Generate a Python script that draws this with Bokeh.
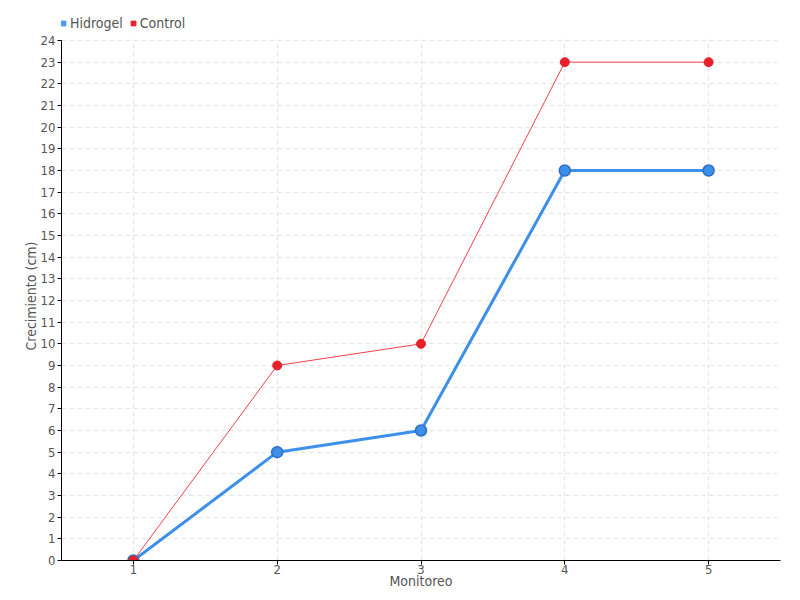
from bokeh.plotting import figure
from bokeh.models import Range1d, FixedTicker, Legend, LegendItem, Title, BoxAnnotation
from bokeh.embed import file_html
from bokeh.resources import INLINE

monitoreo = [1, 2, 3, 4, 5]
hidrogel = [0, 5, 6, 18, 18]
control = [0, 9, 10, 23, 23]
y_ticks = list(range(0, 25))

FONT = "'DejaVu Sans Condensed', 'Liberation Sans Narrow', sans-serif"
TXT = "#555555"

Y_MAX = 24
# frame extends above the top tick so the legend fits inside it
y_top = Y_MAX * 560 / 520

p = figure(width=800, height=600, output_backend="svg", toolbar_location=None,
           x_range=Range1d(0.5, 5.5), y_range=Range1d(0, y_top),
           min_border_left=61, min_border_right=20, min_border_top=0, min_border_bottom=40)
p.outline_line_color = None
p.background_fill_color = "white"

for ax in (p.xaxis[0], p.yaxis[0]):
    ax.axis_line_color = "black"
    ax.axis_line_width = 1
    ax.major_tick_line_color = "black"
    ax.major_tick_out = 4
    ax.major_tick_in = 0
    ax.minor_tick_line_color = None
    ax.major_label_text_font = FONT
    ax.major_label_text_font_size = "13px"
    ax.major_label_text_color = TXT
    ax.axis_label_text_font = FONT
    ax.axis_label_text_font_size = "14px"
    ax.axis_label_text_color = TXT
    ax.axis_label_text_font_style = "normal"

p.yaxis.bounds = (0, Y_MAX)
p.xaxis.ticker = FixedTicker(ticks=monitoreo)
p.yaxis.ticker = FixedTicker(ticks=y_ticks)
p.xaxis.axis_label = "Monitoreo"
p.xaxis.axis_label_standoff = -4
p.xaxis.major_label_standoff = 0
p.yaxis.major_label_standoff = 2

# y axis title placed in the left panel, aligned to the tick range
ytitle = Title(text="Crecimiento (cm)", align="left", offset=210, standoff=-3,
               text_font=FONT, text_font_size="14px", text_color=TXT,
               text_font_style="normal")
p.add_layout(ytitle, "left")

p.xgrid.grid_line_color = "#e2e2e2"
p.xgrid.grid_line_dash = "4 4"
p.ygrid.grid_line_color = "#e2e2e2"
p.ygrid.grid_line_dash = "4 4"

# blank the strip above the top tick (legend area) so grid lines stop at 24
p.add_layout(BoxAnnotation(bottom=Y_MAX + 0.05, fill_color="white", fill_alpha=1,
                           line_color=None, level="underlay"))

BLUE = "#3d8fea"
RED = "#e8202a"

p.line(monitoreo, hidrogel, line_color=BLUE, line_width=3)
p.scatter(monitoreo, hidrogel, size=11, fill_color=BLUE, line_color="#2c6fc4", line_width=1.5)
p.line(monitoreo, control, line_color="#f2404a", line_width=1)
p.scatter(monitoreo, control, size=9, fill_color=RED, line_color=RED)

# legend swatches (size 0 in the plot, drawn only in the legend)
lg_h = p.scatter(monitoreo[:1], hidrogel[:1], size=0, marker="square",
                 fill_color="#4a9af0", line_color="#4a9af0")
lg_c = p.scatter(monitoreo[:1], control[:1], size=0, marker="square",
                 fill_color=RED, line_color=RED)

legend = Legend(items=[LegendItem(label="Hidrogel", renderers=[lg_h]),
                       LegendItem(label="Control", renderers=[lg_c])],
                orientation="horizontal", location=(-4, 529),
                border_line_color=None, background_fill_alpha=0,
                glyph_width=12, glyph_height=12, label_standoff=1, spacing=4,
                padding=0, margin=0,
                label_text_font=FONT, label_text_font_size="14px", label_text_color=TXT)
p.add_layout(legend, "center")

open("out.html", "w").write(file_html(p, INLINE))
